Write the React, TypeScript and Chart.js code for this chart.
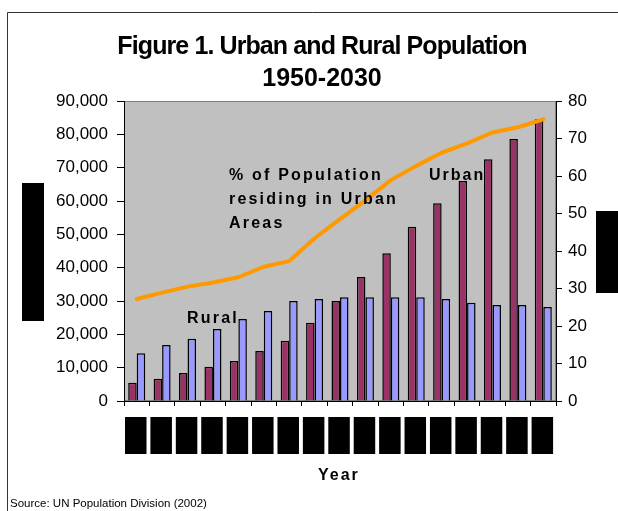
import React, { useEffect, useRef } from 'react';
import { Chart, registerables } from 'chart.js';

Chart.register(...registerables);

// ---- Data ----
const years = ['1950', '1955', '1960', '1965', '1970', '1975', '1980', '1985', '1990', '1995', '2000', '2005', '2010', '2015', '2020', '2025', '2030'];
const urbanPopulation = [5500, 6700, 8400, 10300, 12000, 15000, 18100, 23500, 30000, 37200, 44300, 52300, 59300, 66000, 72500, 78600, 84500];
const ruralPopulation = [14300, 16800, 18700, 21600, 24600, 27000, 30000, 30600, 31100, 31100, 31100, 31100, 30600, 29500, 28800, 28800, 28200];
const percentUrban = [27.2, 28.9, 30.5, 31.6, 33.0, 35.8, 37.3, 43.4, 48.5, 53.5, 58.9, 62.7, 66.2, 68.7, 71.6, 73.0, 75.1];

const leftAxisMax = 90000;
const leftAxisStep = 10000;
const rightAxisMax = 80;
const rightAxisStep = 10;

const titleLines = ['Figure 1. Urban and Rural Population', '1950-2030'];
const lineLabelLines = ['% of Population', 'residing in Urban', 'Areas'];
const ruralLabel = 'Rural';
const urbanLabel = 'Urban';
const xAxisTitle = 'Year';
const sourceNote = 'Source: UN Population Division (2002)';

const FONT = '"Liberation Sans", Arial, Helvetica, sans-serif';

const W = 618;
const H = 511;

const decorPlugin = {
  id: 'decor',
  beforeDraw(chart: any) {
    const { ctx, chartArea: a } = chart;
    ctx.save();
    ctx.fillStyle = '#ffffff';
    ctx.fillRect(0, 0, chart.width, chart.height);
    // outer frame (left + top visible)
    ctx.strokeStyle = '#333333';
    ctx.lineWidth = 1;
    ctx.beginPath();
    ctx.moveTo(7.5, chart.height);
    ctx.lineTo(7.5, 12.5);
    ctx.lineTo(chart.width, 12.5);
    ctx.stroke();
    // plot area
    ctx.fillStyle = '#C0C0C0';
    ctx.fillRect(a.left, a.top, a.right - a.left, a.bottom - a.top);
    ctx.strokeStyle = '#808080';
    ctx.strokeRect(a.left + 0.5, a.top + 0.5, a.right - a.left - 1, a.bottom - a.top - 1);
    ctx.restore();
  },
  afterDraw(chart: any) {
    const { ctx } = chart;
    const xs = chart.scales.x;
    ctx.save();
    // title
    ctx.fillStyle = '#000';
    ctx.textAlign = 'center';
    ctx.textBaseline = 'alphabetic';
    ctx.font = `bold 25px ${FONT}`;
    (ctx as any).letterSpacing = '-0.9px';
    ctx.fillText(titleLines[0], 322, 54);
    (ctx as any).letterSpacing = '0px';
    ctx.fillText(titleLines[1], 322, 86);

    // annotations
    ctx.textAlign = 'left';
    ctx.font = `bold 16px ${FONT}`;
    (ctx as any).letterSpacing = '2.2px';
    lineLabelLines.forEach((t, i) => ctx.fillText(t, 229, 180 + i * 24));
    ctx.fillText(ruralLabel, 187, 323);
    (ctx as any).letterSpacing = '2px';
    ctx.fillText(urbanLabel, 429, 180);
    ctx.fillText(xAxisTitle, 318, 480);

    // source
    (ctx as any).letterSpacing = '0px';
    ctx.font = `11.5px ${FONT}`;
    ctx.fillText(sourceNote, 10, 507);

    // redaction boxes (axis titles and x labels)
    ctx.fillStyle = '#000';
    ctx.fillRect(22, 183, 22, 138);
    ctx.fillRect(596, 211, 22, 82);
    const n = years.length;
    const catW = (xs.right - xs.left) / n;
    for (let i = 0; i < n; i++) {
      const left = xs.left + i * catW + 1;
      ctx.fillRect(left, 417, 21.5, 37);
    }
    ctx.restore();
  },
};

export default function App() {
  const ref = useRef<HTMLCanvasElement | null>(null);

  useEffect(() => {
    if (!ref.current) return;
    Chart.defaults.font.family = FONT;
    const chart = new Chart(ref.current, {
      type: 'bar',
      data: {
        labels: years,
        datasets: [
          {
            type: 'line',
            label: '% of Population residing in Urban Areas',
            data: percentUrban,
            yAxisID: 'y1',
            borderColor: '#FF9900',
            backgroundColor: '#FF9900',
            borderWidth: 4,
            pointRadius: 0,
            tension: 0,
            fill: false,
            borderJoinStyle: 'round',
            borderCapStyle: 'round',
            order: 0,
          } as any,
          {
            type: 'bar',
            label: 'Urban',
            data: urbanPopulation,
            yAxisID: 'y',
            backgroundColor: '#993366',
            borderColor: '#000000',
            borderWidth: 1.5,
            categoryPercentage: 0.67,
            barPercentage: 1,
            order: 1,
          },
          {
            type: 'bar',
            label: 'Rural',
            data: ruralPopulation,
            yAxisID: 'y',
            backgroundColor: '#9999FF',
            borderColor: '#000000',
            borderWidth: 1.5,
            categoryPercentage: 0.67,
            barPercentage: 1,
            order: 1,
          },
        ],
      },
      options: {
        animation: false,
        responsive: false,
        maintainAspectRatio: false,
        devicePixelRatio: 1,
        layout: { padding: { top: 101, left: 0, right: 0, bottom: 0 } },
        plugins: {
          legend: { display: false },
          title: { display: false },
          tooltip: { enabled: false },
        },
        scales: {
          x: {
            offset: true,
            grid: { offset: true, drawOnChartArea: false, drawTicks: true, tickLength: 5, color: '#000' },
            border: { display: true, color: '#000', width: 1 },
            ticks: {
              autoSkip: false,
              minRotation: 90,
              maxRotation: 90,
              padding: 16,
              color: '#000',
              font: { family: FONT, size: 12 },
            },
            afterFit: (s: any) => { s.height = 110; },
          },
          y: {
            position: 'left',
            min: 0,
            max: leftAxisMax,
            ticks: {
              stepSize: leftAxisStep,
              color: '#000',
              padding: 9,
              font: { family: FONT, size: 17 },
              callback: (v: any) => Number(v).toLocaleString('en-US'),
            },
            grid: { drawOnChartArea: false, drawTicks: true, tickLength: 7, color: '#000' },
            border: { display: true, color: '#000', width: 1 },
            afterFit: (s: any) => { s.width = 124; },
          },
          y1: {
            position: 'right',
            min: 0,
            max: rightAxisMax,
            ticks: {
              stepSize: rightAxisStep,
              color: '#000',
              padding: 6,
              font: { family: FONT, size: 17 },
            },
            grid: { drawOnChartArea: false, drawTicks: true, tickLength: 6, color: '#000' },
            border: { display: true, color: '#000', width: 1 },
            afterFit: (s: any) => { s.width = W - 556; },
          },
        },
      } as any,
      plugins: [decorPlugin],
    });
    return () => chart.destroy();
  }, []);

  return (
    <div style={{ position: 'absolute', left: 0, top: 0, width: W, height: H }}>
      <canvas ref={ref} width={W} height={H} style={{ display: 'block', width: W, height: H }} />
    </div>
  );
}
